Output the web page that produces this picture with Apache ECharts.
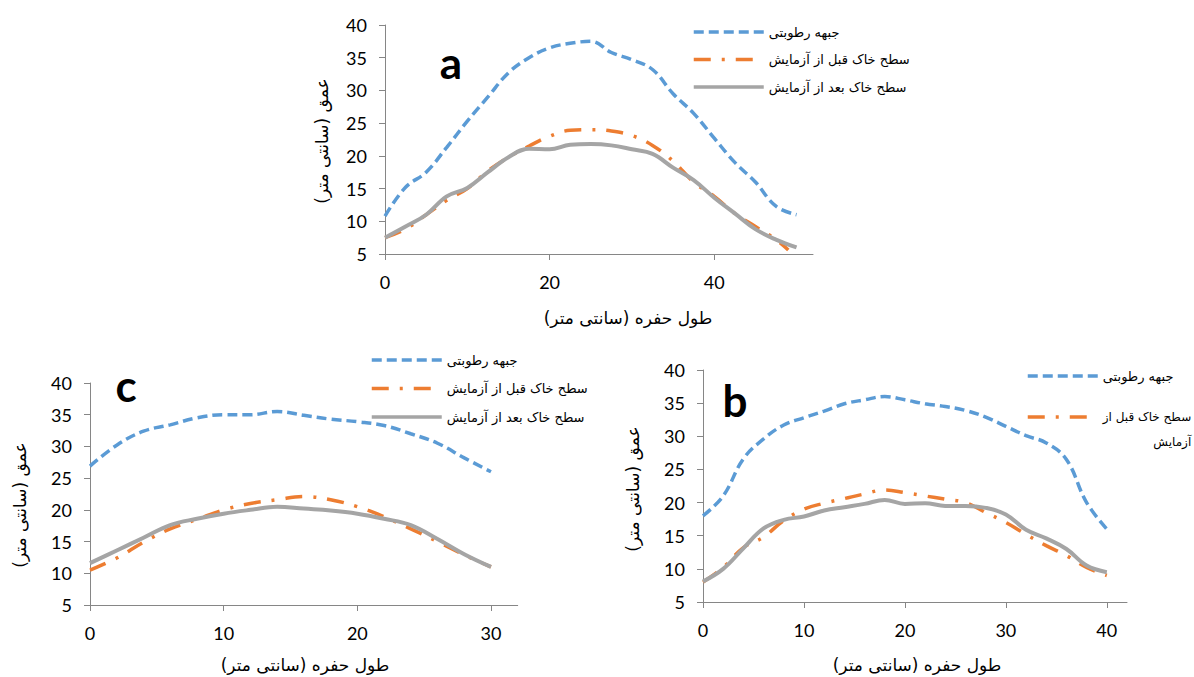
<!DOCTYPE html>
<html><head><meta charset="utf-8">
<script src="https://cdn.jsdelivr.net/npm/echarts@6/dist/echarts.min.js"></script>
<style>html,body{margin:0;padding:0;background:#fff}#c{width:1194px;height:677px}</style>
</head><body><div id="c"></div>
<script>
// ---------- text ----------
const seriesNames = ['جبهه رطوبتی', 'سطح خاک قبل از آزمایش', 'سطح خاک بعد از آزمایش'];
const xTitle = 'طول حفره (سانتی متر)\u200F';
const yTitle = 'عمق (سانتی متر)\u200F';
const panelLetters = ['a', 'b', 'c'];
const yTicks = [5, 10, 15, 20, 25, 30, 35, 40];

// ---------- panel a ----------
const aXTicks = [0, 20, 40];
const aX = [0, 2.5, 5, 7.5, 10, 12.5, 15, 17.5, 20, 22.5, 25, 27.5, 30, 32.5, 35, 37.5, 40, 42.5, 45, 47.5, 50];
const aBlue = [10.8, 15.2, 17.5, 21.3, 25.3, 29, 32.7, 35, 36.5, 37.2, 37.5, 35.8, 34.7, 33.2, 29.5, 26.5, 22.7, 19, 16, 12.3, 11];
const aOrangeX = [0, 2.5, 5, 7.5, 10, 12.5, 15, 17.5, 20, 22.5, 25, 27.5, 30, 32.5, 35, 37.5, 40, 42.5, 45, 47.5, 49];
const aOrange = [7.5, 8.8, 11, 13.2, 15, 17.7, 19.8, 21.5, 23, 23.9, 24, 23.8, 23.1, 21.6, 19.2, 16, 13.8, 11.2, 9.2, 7.2, 5.6];
const aGray = [7.5, 9.2, 11, 13.8, 15.1, 17.5, 19.8, 21.1, 21, 21.7, 21.8, 21.6, 21, 20.3, 18.2, 16.3, 13.6, 11.2, 8.8, 7.2, 6];

// ---------- panel b ----------
const bXTicks = [0, 10, 20, 30, 40];
const bX = [0, 2, 4, 6, 8, 10, 12, 14, 16, 18, 20, 22, 24, 26, 28, 30, 32, 34, 36, 38, 40];
const bBlue = [18, 21, 26.6, 29.6, 31.7, 32.8, 33.8, 34.9, 35.5, 36, 35.5, 34.9, 34.5, 33.9, 32.9, 31.5, 30.1, 29, 26.5, 20, 16];
const bOrange = [8, 10.2, 13.2, 14.8, 17.3, 19, 19.9, 20.6, 21.3, 21.9, 21.5, 21, 20.5, 20, 18.5, 17, 15.2, 13.5, 12, 10.2, 9];
const bGray = [8.1, 10, 13.1, 16.1, 17.4, 17.9, 18.8, 19.3, 19.8, 20.4, 19.8, 19.9, 19.5, 19.5, 19.2, 18.2, 15.9, 14.6, 13, 10.5, 9.5];

// ---------- panel c ----------
const cXTicks = [0, 10, 20, 30];
const cX = [0, 2, 4, 6, 8, 10, 12, 14, 16, 18, 20, 22, 24, 26, 28, 30];
const cBlue = [26.9, 30.2, 32.4, 33.4, 34.5, 35, 35, 35.5, 34.9, 34.3, 33.9, 33.3, 32, 30.5, 28.2, 26];
const cOrange = [10.5, 12.4, 14.9, 17, 18.5, 20, 21, 21.6, 22.1, 21.6, 20.5, 18.9, 17, 15, 12.9, 11];
const cGray = [11.6, 13.6, 15.6, 17.6, 18.6, 19.4, 20, 20.5, 20.2, 19.9, 19.4, 18.6, 17.6, 15.4, 13, 11];

// ---------- build ----------
const zip = (xs, ys) => xs.map((x, i) => [x, ys[i]]);
const AXIS = '#868686';
const NUMFONT = 'Lato, "Open Sans", sans-serif';
const AR = '"DejaVu Sans", sans-serif';
const styles = [
  { color: '#5B9BD5', width: 3.5, type: [10, 5] },
  { color: '#ED7D31', width: 3.5, type: [17, 11, 3, 11] },
  { color: '#A5A5A5', width: 4, type: 'solid' }
];
const panels = [
  { grid: { left: 385, top: 25, width: 428, height: 229 }, xmax: 52, xticks: aXTicks,
    data: [zip(aX, aBlue), zip(aOrangeX, aOrange), zip(aX, aGray)] },
  { grid: { left: 90, top: 383, width: 427.7, height: 222 }, xmax: 32, xticks: cXTicks,
    data: [zip(cX, cBlue), zip(cX, cOrange), zip(cX, cGray)] },
  { grid: { left: 703, top: 370, width: 424, height: 232 }, xmax: 42, xticks: bXTicks,
    data: [zip(bX, bBlue), zip(bX, bOrange), zip(bX, bGray)] }
];

const grid = [], xAxis = [], yAxis = [], series = [];
panels.forEach((p, i) => {
  grid.push(Object.assign({ containLabel: false, outerBoundsMode: 'none' }, p.grid));
  xAxis.push({
    type: 'value', gridIndex: i, min: 0, max: p.xmax, interval: 10,
    axisLine: { show: true, onZero: false, lineStyle: { color: AXIS, width: 1 } },
    axisTick: { show: true, inside: false, length: 6, customValues: p.xticks, lineStyle: { color: AXIS } },
    axisLabel: { customValues: p.xticks, margin: 19, color: '#000', fontFamily: NUMFONT, fontSize: 18 },
    splitLine: { show: false }
  });
  yAxis.push({
    type: 'value', gridIndex: i, min: 5, max: 40, interval: 5,
    axisLine: { show: true, onZero: false, lineStyle: { color: AXIS, width: 1 } },
    axisTick: { show: true, inside: false, length: 6, lineStyle: { color: AXIS } },
    axisLabel: { margin: 18, color: '#000', fontFamily: NUMFONT, fontSize: 18,
      customValues: yTicks },
    splitLine: { show: false }
  });
  p.data.forEach((d, k) => {
    series.push({
      type: 'line', name: seriesNames[k], xAxisIndex: i, yAxisIndex: i,
      data: d, smooth: 0.4, symbol: 'none', showSymbol: false, silent: true,
      lineStyle: { color: styles[k].color, width: styles[k].width, type: styles[k].type, cap: 'butt' },
      itemStyle: { color: styles[k].color },
      z: 2 + k
    });
  });
});

const legendBase = {
  orient: 'vertical', itemWidth: 70, itemHeight: 14,
  selectedMode: false,
  itemStyle: { color: 'rgba(0,0,0,0)', borderWidth: 0, opacity: 0 },
  lineStyle: { width: 3.5 },
  textStyle: { fontFamily: AR, fontSize: 13, color: '#000', lineHeight: 14 }
};
const legend = [
  Object.assign({}, legendBase, { left: 687, top: 20, itemGap: 13.5, data: seriesNames }),
  Object.assign({}, legendBase, { left: 365, top: 348, itemGap: 14.5, data: seriesNames }),
  Object.assign({}, legendBase, { left: 1021, top: 364, data: [seriesNames[0]] }),
  Object.assign({}, legendBase, { left: 1021, top: 374.5, data: [seriesNames[1]],
    formatter: () => '{t|سطح خاک قبل از}\n{t|آزمایش}',
    textStyle: { fontFamily: AR, fontSize: 12, color: '#000', lineHeight: 25, padding: [25, 0, 0, 0],
      rich: { t: { fontFamily: AR, fontSize: 12, color: '#000', lineHeight: 25, align: 'right' } } } })
];

function txt(x, y, text, font, rot) {
  return { type: 'text', x: x, y: y, rotation: rot || 0, silent: true,
    style: { text: text, font: font, fill: '#000', align: 'center', verticalAlign: 'middle',
      textAlign: 'center', textVerticalAlign: 'middle' } };
}
const TF = '17px ' + AR;
const LF = 'bold 44px Lato, sans-serif';
const graphic = [
  txt(451, 62, panelLetters[0], LF),
  txt(735, 400, panelLetters[1], LF),
  txt(126, 385, panelLetters[2], LF),
  txt(628, 318, xTitle, TF),
  txt(305, 665, xTitle, TF),
  txt(917, 665, xTitle, TF),
  txt(322, 141, yTitle, TF, Math.PI / 2),
  txt(20, 505, yTitle, TF, Math.PI / 2),
  txt(633, 489, yTitle, TF, Math.PI / 2)
];

const chart = echarts.init(document.getElementById('c'), null, { renderer: 'svg' });
chart.setOption({ animation: false, backgroundColor: '#fff', grid, xAxis, yAxis, series, legend, graphic });
</script></body></html>
